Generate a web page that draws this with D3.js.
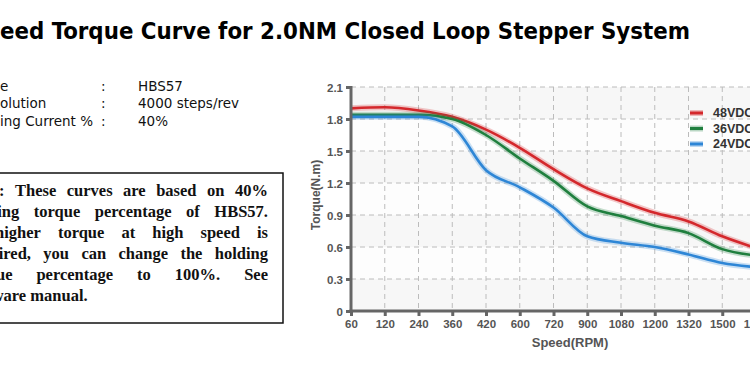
<!DOCTYPE html>
<html>
<head>
<meta charset="utf-8">
<script src="https://cdn.jsdelivr.net/npm/d3@7"></script>
<style>
  body { margin: 0; background: #fff; }
  #chart { width: 750px; height: 375px; overflow: hidden; }
</style>
</head>
<body>
<div id="chart"></div>
<script>
/* DATA */
var speeds = ["60","120","240","360","420","600","720","900","1080","1200","1320","1500","1800"];
var torque48 = [1.90,1.91,1.88,1.82,1.70,1.53,1.33,1.15,1.03,0.92,0.84,0.70,0.59];
var torque36 = [1.84,1.84,1.84,1.80,1.65,1.43,1.22,0.98,0.89,0.80,0.73,0.58,0.52];
var torque24 = [1.82,1.82,1.82,1.73,1.32,1.16,0.97,0.70,0.64,0.60,0.53,0.45,0.41];
var yTicks = [0,0.3,0.6,0.9,1.2,1.5,1.8,2.1];
var seriesNames = ["48VDC","36VDC","24VDC"];
var seriesColors = ["#d4282c","#1f7f3e","#2e86d6"];

var infoLabels = ["Drive","Resolution","Holding Current %"];
var infoCut = ["Driv","Res","Hold"];
var infoValues = ["HBS57","4000 steps/rev","40%"];

var noteLines = [
  "Note: These curves are based on 40%",
  "holding torque percentage of HBS57.",
  "If higher torque at high speed is",
  "required, you can change the holding",
  "torque percentage to 100%. See",
  "software manual."
];

var width = 750, height = 375;
var svg = d3.select("#chart").append("svg")
    .attr("width", width)
    .attr("height", height);

function textWidth(str, font, size, weight) {
    var t = svg.append("text")
        .attr("font-family", font)
        .attr("font-size", size)
        .attr("font-weight", weight)
        .text(str);
    var w = t.node().getComputedTextLength();
    t.remove();
    return w;
}

/* TITLE (left part is cut off by the frame) */
var titleText = "Speed Torque Curve for 2.0NM Closed Loop Stepper System";
var tFont = "DejaVu Sans Condensed, DejaVu Sans";
var fullW = textWidth(titleText, tFont, 23, "bold");
var cutW = textWidth("Sp", tFont, 23, "bold");
var s = 690 / (fullW - cutW);
svg.append("text")
    .attr("x", -cutW * s)
    .attr("y", 39)
    .attr("font-family", tFont)
    .attr("font-size", 23)
    .attr("font-weight", "bold")
    .attr("fill", "#000")
    .attr("textLength", fullW * s)
    .attr("lengthAdjust", "spacingAndGlyphs")
    .text(titleText);

/* INFO ROWS */
var infoY = [91, 108, 126];
var iFont = "DejaVu Sans";
infoLabels.forEach(function(lbl, i) {
    var cw = textWidth(infoCut[i], iFont, 13.5, "normal");
    svg.append("text")
        .attr("x", -cw).attr("y", infoY[i])
        .attr("font-family", iFont).attr("font-size", 13.5)
        .attr("fill", "#111")
        .text(lbl);
    svg.append("text")
        .attr("x", 101).attr("y", infoY[i])
        .attr("font-family", iFont).attr("font-size", 13.5)
        .attr("fill", "#111")
        .text(":");
    svg.append("text")
        .attr("x", 138).attr("y", infoY[i])
        .attr("font-family", iFont).attr("font-size", 13.5)
        .attr("fill", "#111")
        .text(infoValues[i]);
});

/* NOTE BOX */
svg.append("rect")
    .attr("x", -10).attr("y", 173)
    .attr("width", 293).attr("height", 150)
    .attr("fill", "none")
    .attr("stroke", "#111")
    .attr("stroke-width", 1.5);

var nFont = "Liberation Serif, Times New Roman, serif";
var nSize = 16.5;
var noteLeft = -1 - textWidth("Note", nFont, nSize, "bold");
var noteRight = 268;
var spaceW = textWidth("a a", nFont, nSize, "bold") - textWidth("aa", nFont, nSize, "bold");

// justify by spreading the words, last line left aligned
noteLines.forEach(function(line, i) {
    var words = line.split(" ");
    var widths = words.map(function(w) { return textWidth(w, nFont, nSize, "bold"); });
    var gap = spaceW;
    if (i < noteLines.length - 1 && words.length > 1) {
        gap = (noteRight - noteLeft - d3.sum(widths)) / (words.length - 1);
    }
    var t = svg.append("text")
        .attr("y", 196 + i * 21)
        .attr("font-family", nFont)
        .attr("font-size", nSize)
        .attr("font-weight", "bold")
        .attr("fill", "#111");
    var cx = noteLeft;
    words.forEach(function(w, j) {
        t.append("tspan").attr("x", cx).text(w);
        cx += widths[j] + gap;
    });
});

/* CHART */
var x0 = 351, step = 33.75;
var x = d3.scalePoint()
    .domain(speeds)
    .range([x0, x0 + step * (speeds.length - 1)]);
var y = d3.scaleLinear()
    .domain([0, 2.1])
    .range([311, 87]);
var plotRight = 770;

var plot = svg.append("g");

// light bands
for (var i = 0; i < yTicks.length - 1; i++) {
    plot.append("rect")
        .attr("x", x0).attr("y", y(yTicks[i + 1]))
        .attr("width", plotRight - x0)
        .attr("height", y(yTicks[i]) - y(yTicks[i + 1]))
        .attr("fill", i % 2 === 0 ? "#f7f7f7" : "#fdfdfd");
}

// grid
plot.selectAll(".hgrid")
    .data(yTicks.slice(1))
    .enter().append("line")
    .attr("x1", x0).attr("x2", plotRight)
    .attr("y1", function(d) { return y(d); })
    .attr("y2", function(d) { return y(d); })
    .attr("stroke", "#bcbcbc")
    .attr("stroke-dasharray", "5,4");

plot.selectAll(".vgrid")
    .data(speeds.slice(1))
    .enter().append("line")
    .attr("x1", function(d) { return x(d); })
    .attr("x2", function(d) { return x(d); })
    .attr("y1", y(2.1)).attr("y2", y(0))
    .attr("stroke", "#bcbcbc")
    .attr("stroke-dasharray", "5,4");

// curves
var line = d3.line()
    .x(function(d, i) { return x(speeds[i]); })
    .y(function(d) { return y(d); })
    .curve(d3.curveMonotoneX);

var allSeries = [torque48, torque36, torque24];
allSeries.forEach(function(vals, k) {
    plot.append("path")
        .attr("d", line(vals))
        .attr("fill", "none")
        .attr("stroke", seriesColors[k])
        .attr("stroke-opacity", 0.25)
        .attr("stroke-width", 6);
    plot.append("path")
        .attr("d", line(vals))
        .attr("fill", "none")
        .attr("stroke", seriesColors[k])
        .attr("stroke-width", 2.6);
});

// axes
var axisColor = "#666";
var yAxis = svg.append("g")
    .attr("transform", "translate(" + x0 + ",0)")
    .call(d3.axisLeft(y).tickValues(yTicks).tickSize(5).tickFormat(function(d) { return d === 0 ? "0" : d3.format(".1f")(d); }));
var xAxis = svg.append("g")
    .attr("transform", "translate(0," + y(0) + ")")
    .call(d3.axisBottom(x).tickSize(5).tickPadding(4));

[yAxis, xAxis].forEach(function(a) {
    a.select(".domain").remove();
    a.selectAll(".tick line").attr("stroke", axisColor).attr("stroke-width", 3);
    a.selectAll(".tick text")
        .attr("fill", "#555")
        .attr("font-family", "Liberation Sans, Arial, sans-serif")
        .attr("font-size", 11.5)
        .attr("font-weight", "bold");
});
yAxis.selectAll(".tick text").attr("dy", "0.35em");

svg.append("line")
    .attr("x1", x0).attr("x2", x0)
    .attr("y1", y(2.1) - 1).attr("y2", y(0) + 1.5)
    .attr("stroke", axisColor).attr("stroke-width", 3);
svg.append("line")
    .attr("x1", x0 - 1.5).attr("x2", plotRight)
    .attr("y1", y(0)).attr("y2", y(0))
    .attr("stroke", axisColor).attr("stroke-width", 3);

// axis titles
svg.append("text")
    .attr("x", 570).attr("y", 347)
    .attr("text-anchor", "middle")
    .attr("font-family", "Liberation Sans, Arial, sans-serif")
    .attr("font-size", 13)
    .attr("font-weight", "bold")
    .attr("fill", "#555")
    .text("Speed(RPM)");

svg.append("text")
    .attr("transform", "translate(320,195) rotate(-90)")
    .attr("text-anchor", "middle")
    .attr("font-family", "Liberation Sans, Arial, sans-serif")
    .attr("font-size", 12)
    .attr("font-weight", "bold")
    .attr("fill", "#555")
    .text("Torque(N.m)");

// legend
var legend = svg.append("g").attr("transform", "translate(690,113)");
seriesNames.forEach(function(name, k) {
    var g = legend.append("g").attr("transform", "translate(0," + (k * 15.5) + ")");
    g.append("line")
        .attr("x1", 0).attr("x2", 13)
        .attr("y1", 0).attr("y2", 0)
        .attr("stroke", seriesColors[k])
        .attr("stroke-opacity", 0.3)
        .attr("stroke-width", 6);
    g.append("line")
        .attr("x1", 0).attr("x2", 13)
        .attr("y1", 0).attr("y2", 0)
        .attr("stroke", seriesColors[k])
        .attr("stroke-width", 3);
    g.append("text")
        .attr("x", 23).attr("y", 0).attr("dy", "0.35em")
        .attr("font-family", "Liberation Sans, Arial, sans-serif")
        .attr("font-size", 12.5)
        .attr("font-weight", "bold")
        .attr("fill", "#333")
        .text(name);
});
</script>
</body>
</html>
